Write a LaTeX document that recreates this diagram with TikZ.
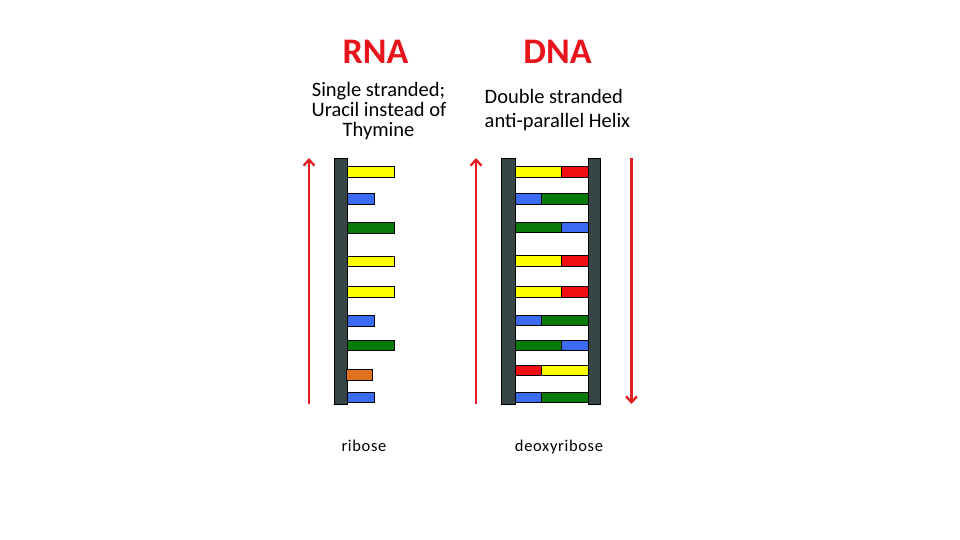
\documentclass[tikz,border=0pt]{standalone}
\usepackage{fontspec}
\setmainfont{Carlito}
\usetikzlibrary{arrows.meta}
\definecolor{bbone}{HTML}{364545}
\definecolor{byel}{HTML}{FFFF00}
\definecolor{bred}{HTML}{F20F14}
\definecolor{bblue}{HTML}{3A6BF2}
\definecolor{bgreen}{HTML}{087A0A}
\definecolor{borange}{HTML}{E0721E}
\definecolor{arrred}{HTML}{E21E22}
\definecolor{ttlred}{HTML}{E8141C}
\tikzset{
  backbone/.style={draw=black, line width=0.6pt, fill=bbone},
  base/.style={draw=black, line width=0.6pt},
  strand/.style={draw=arrred, line width=2.3pt, -{Straight Barb[length=6pt,width=11pt,line width=2.3pt]}},
  title/.style={text=ttlred, font=\fontsize{36}{36}\selectfont\bfseries, inner sep=0pt},
  sub/.style={font=\fontsize{20.5}{20.5}\selectfont, inner sep=0pt, anchor=base},
  lab/.style={font=\addfontfeatures{LetterSpace=4}\fontsize{16.5}{16.5}\selectfont, inner sep=0pt, anchor=base}
}
\begin{document}
\begin{tikzpicture}[x=1pt,y=-1pt]
\useasboundingbox (0,0) rectangle (960,540);
% titles
\node[title] (rnat) at (375.5,51.5) {RNA};
\node[title] (dnat) at (557.5,51.5) {DNA};
\node[sub] (r1) at (378.5,96.5) {Single stranded;};
\node[sub] (r2) at (379,116.5) {Uracil instead of};
\node[sub] (r3) at (378.5,137) {Thymine};
\node[sub, anchor=base west] (d1) at (484.5,104) {Double stranded};
\node[sub, anchor=base west] (d2) at (484.5,128) {anti-parallel Helix};
\node[lab] (rib) at (364,451.5) {ribose};
\node[lab] (drib) at (559,451.5) {deoxyribose};
% RNA
\fill[backbone] (334,158) rectangle (347.5,404);
\coordinate (ra0) at (309,404); \coordinate (ra1) at (309,158);
\draw[strand] (ra0) -- (ra1);
\foreach \y/\xe/\c in {171.7/394.7/byel, 198.8/374/bblue, 227.8/394.7/bgreen, 261.2/394.7/byel, 291.8/394.7/byel, 320.7/374/bblue, 345.3/394.7/bgreen, 397.3/374/bblue}
  \filldraw[base, fill=\c] (347.5,\y-5.3) rectangle (\xe,\y+5.3);
\filldraw[base, fill=borange] (346.7,374.7-5.3) rectangle (372.3,374.7+5.3);
% DNA
\coordinate (da0) at (476,404); \coordinate (da1) at (476,158);
\draw[strand] (da0) -- (da1);
\coordinate (db0) at (631.5,158); \coordinate (db1) at (631.5,404);
\draw[strand] (db0) -- (db1);
\foreach \y/\xm/\ca/\cb in {171.7/561.7/byel/bred, 198.8/541.7/bblue/bgreen, 227.3/561.7/bgreen/bblue, 260.8/561.7/byel/bred, 291.7/561.7/byel/bred, 320.3/541.7/bblue/bgreen, 345.2/561.7/bgreen/bblue, 370.2/541.7/bred/byel, 397.5/541.7/bblue/bgreen}{
  \filldraw[base, fill=\ca] (515,\y-5.2) rectangle (\xm,\y+5.2);
  \filldraw[base, fill=\cb] (\xm,\y-5.2) rectangle (588.3,\y+5.2);
}
\fill[backbone] (501,158) rectangle (515,404);
\fill[backbone] (588.3,158) rectangle (600.7,404);
\end{tikzpicture}
\end{document}
